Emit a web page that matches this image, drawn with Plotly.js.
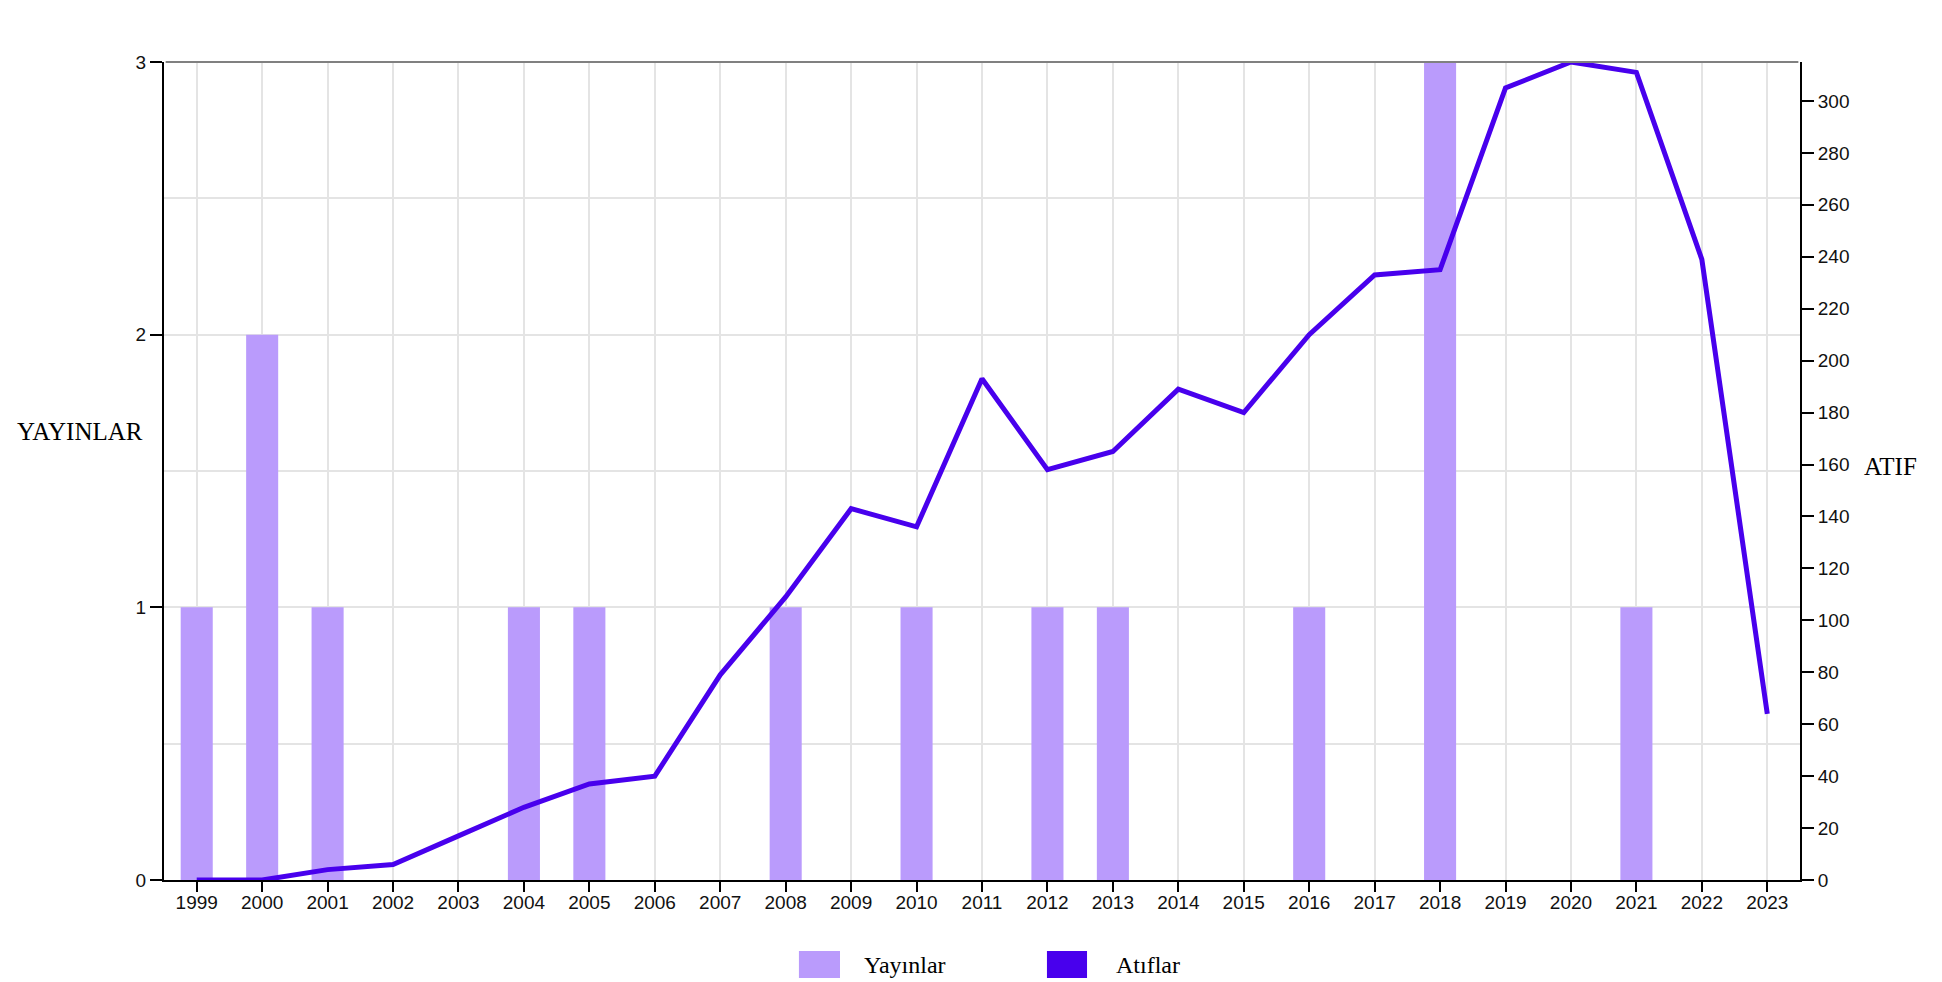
<!DOCTYPE html>
<html>
<head>
<meta charset="utf-8">
<script src="https://cdn.plot.ly/plotly-3.0.1.min.js"></script>
<style>
  html, body { margin: 0; padding: 0; background: #fff; }
  #chart { width: 1942px; height: 982px; }
</style>
</head>
<body>
<div id="chart"></div>
<script>
const years = ["1999","2000","2001","2002","2003","2004","2005","2006","2007","2008","2009","2010","2011","2012","2013","2014","2015","2016","2017","2018","2019","2020","2021","2022","2023"];
const yayinlar = [1, 2, 1, 0, 0, 1, 1, 0, 0, 1, 0, 1, 0, 1, 1, 0, 0, 1, 0, 3, 0, 0, 1, 0, 0];
const atiflar = [0, 0, 4, 6, 17, 28, 37, 40, 79, 109, 143, 136, 193, 158, 165, 189, 180, 210, 233, 235, 305, 315, 311, 239, 64];
const seriesNames = ["Yayınlar", "Atıflar"];
const axisTitles = ["YAYINLAR", "ATIF"];

const barColor = "#BA9BFC";
const lineColor = "#4800ED";
const gridColor = "#e4e4e4";
const tickFont = { family: "Liberation Sans, Arial, sans-serif", size: 19, color: "#111" };
const titleFont = { family: "Liberation Serif, Times New Roman, serif", size: 25, color: "#000" };
const legendFont = { family: "Liberation Serif, Times New Roman, serif", size: 24, color: "#000" };

const traces = [
  {
    type: "bar",
    name: seriesNames[0],
    x: years,
    y: yayinlar,
    marker: { color: barColor },
    yaxis: "y",
    hoverinfo: "x+y"
  },
  {
    type: "scatter",
    mode: "lines",
    name: seriesNames[1],
    x: years,
    y: atiflar,
    line: { color: lineColor, width: 5 },
    yaxis: "y2",
    hoverinfo: "x+y"
  }
];

const layout = {
  width: 1942,
  height: 982,
  margin: { l: 164, r: 142, t: 62, b: 102 },
  paper_bgcolor: "#fff",
  plot_bgcolor: "#fff",
  showlegend: false,
  bargap: 0.51,
  xaxis: {
    type: "category",
    range: [-0.5, 24.5],
    showgrid: true,
    gridcolor: gridColor,
    gridwidth: 2,
    showline: true,
    linecolor: "#000",
    linewidth: 2,
    ticks: "outside",
    ticklen: 10,
    tickwidth: 2,
    tickcolor: "#000",
    tickfont: tickFont,
    ticklabelstandoff: -6,
    tickangle: 0,
    zeroline: false,
    fixedrange: true
  },
  yaxis: {
    range: [0, 3],
    dtick: 1,
    tick0: 0,
    showgrid: true,
    gridcolor: gridColor,
    gridwidth: 2,
    minor: { dtick: 0.5, showgrid: true, gridcolor: gridColor, gridwidth: 2 },
    showline: true,
    linecolor: "#000",
    linewidth: 2,
    ticks: "outside",
    ticklen: 12,
    tickwidth: 2,
    tickcolor: "#000",
    tickfont: tickFont,
    zeroline: false,
    fixedrange: true
  },
  yaxis2: {
    overlaying: "y",
    side: "right",
    range: [0, 315],
    dtick: 20,
    tick0: 0,
    showgrid: false,
    showline: true,
    linecolor: "#000",
    linewidth: 2,
    ticks: "outside",
    ticklen: 12,
    tickwidth: 2,
    tickcolor: "#000",
    tickfont: tickFont,
    zeroline: false,
    fixedrange: true
  },
  shapes: [
    { type: "line", xref: "paper", yref: "paper", x0: 0.001, x1: 0.999, y0: 1, y1: 1,
      line: { color: "#808080", width: 2 } },
    { type: "rect", xref: "paper", yref: "paper", x0: 0.3881, x1: 0.4132, y0: -0.0868, y1: -0.1198,
      fillcolor: barColor, line: { width: 0 } },
    { type: "rect", xref: "paper", yref: "paper", x0: 0.5397, x1: 0.5642, y0: -0.0868, y1: -0.1198,
      fillcolor: lineColor, line: { width: 0 } }
  ],
  annotations: [
    { text: axisTitles[0], xref: "paper", yref: "paper", x: -0.0513, y: 0.5477,
      xanchor: "center", yanchor: "middle", showarrow: false, font: titleFont },
    { text: axisTitles[1], xref: "paper", yref: "paper", x: 1.0555, y: 0.505,
      xanchor: "center", yanchor: "middle", showarrow: false, font: titleFont },
    { text: seriesNames[0], xref: "paper", yref: "paper", x: 0.4266, y: -0.1039,
      xanchor: "left", yanchor: "middle", showarrow: false, font: legendFont },
    { text: seriesNames[1], xref: "paper", yref: "paper", x: 0.5806, y: -0.1039,
      xanchor: "left", yanchor: "middle", showarrow: false, font: legendFont }
  ]
};

Plotly.newPlot("chart", traces, layout, { displayModeBar: false, staticPlot: true });
</script>
</body>
</html>
